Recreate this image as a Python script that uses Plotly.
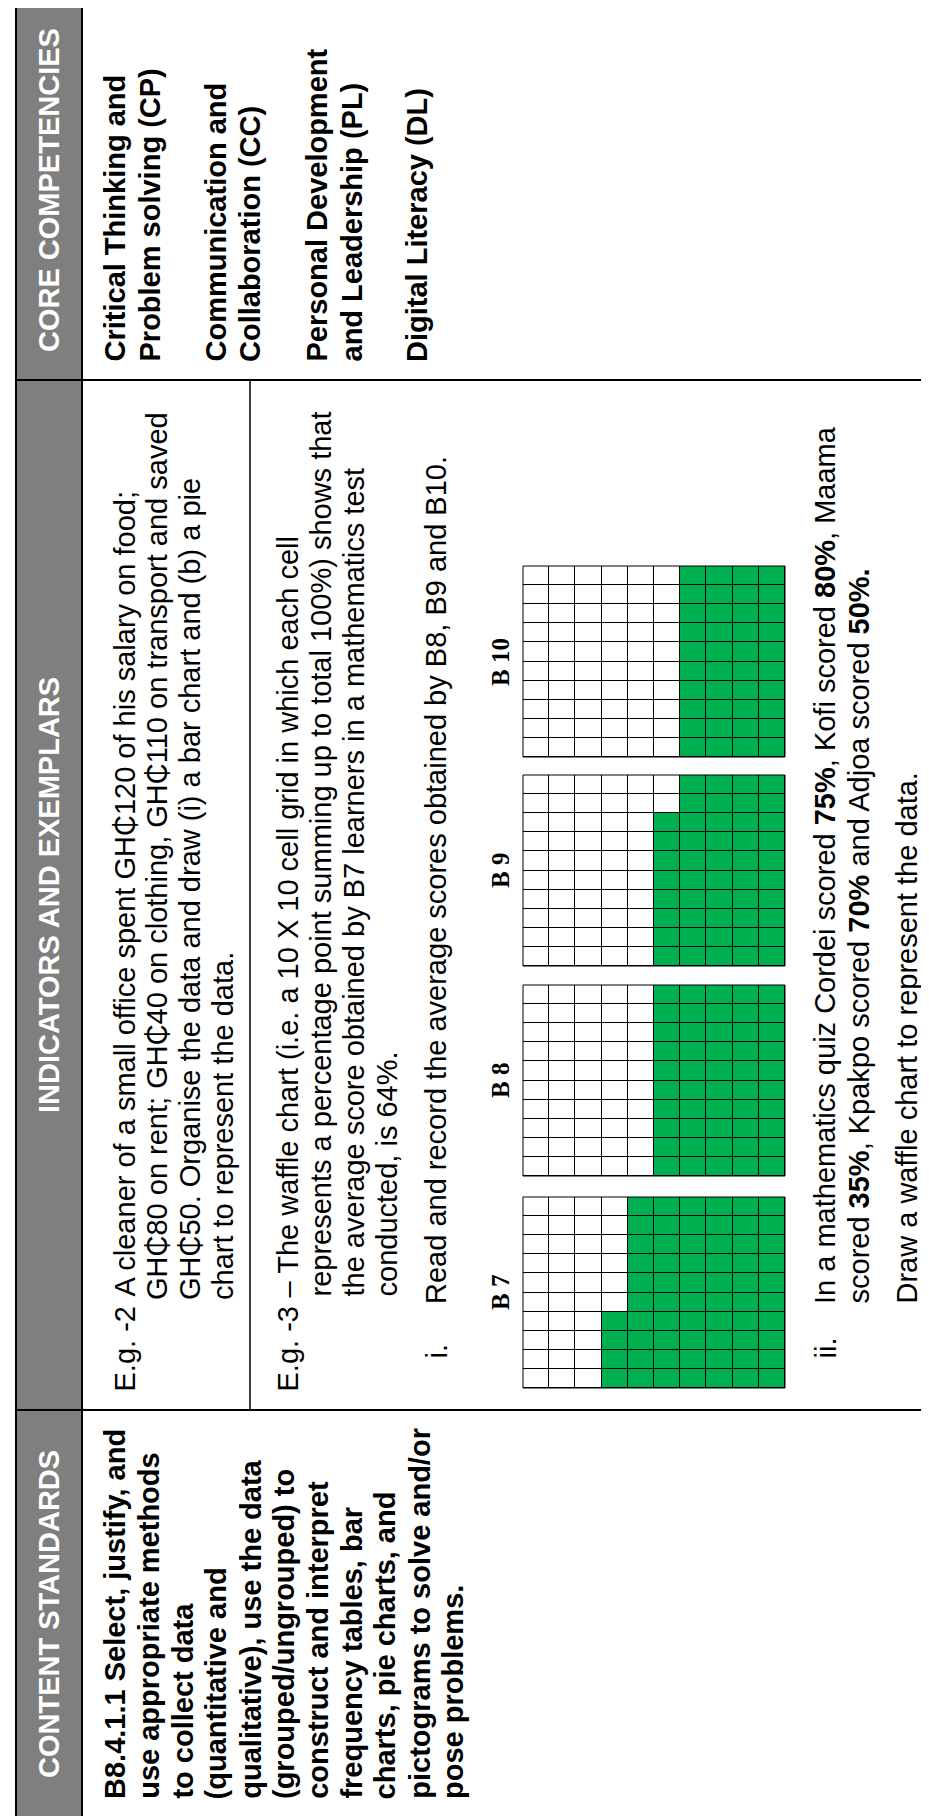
import plotly.graph_objects as go

# page size in pixels
W, H = 929, 1816

# waffle data: class labels and average scores (%)
classes = ["B 7", "B 8", "B 9", "B 10"]
scores = [64, 50, 48, 40]

# table text
header_titles = ["CORE COMPETENCIES", "INDICATORS AND EXEMPLARS", "CONTENT STANDARDS"]

competency_lines = [
    "Critical Thinking and", "Problem solving (CP)",
    "Communication and", "Collaboration (CC)",
    "Personal Development", "and Leadership (PL)",
    "Digital Literacy (DL)",
]

standard_lines = [
    "B8.4.1.1 Select, justify, and",
    "use appropriate methods",
    "to collect data",
    "(quantitative and",
    "qualitative), use the data",
    "(grouped/ungrouped) to",
    "construct and interpret",
    "frequency tables, bar",
    "charts, pie charts, and",
    "pictograms to solve and/or",
    "pose problems.",
]

eg2_lines = [
    "A cleaner of a small office spent GH₵120 of his salary on food;",
    "GH₵80 on rent; GH₵40 on clothing, GH₵110 on transport and saved",
    "GH₵50. Organise the data and draw (i) a bar chart and (b) a pie",
    "chart to represent the data.",
]

eg3_lines = [
    "– The waffle chart (i.e. a 10 X 10 cell grid in which each cell",
    "represents a percentage point summing up to total 100%) shows that",
    "the average score obtained by B7 learners in a mathematics test",
    "conducted, is 64%.",
]

read_line = "Read and record the average scores obtained by B8, B9 and B10."

task_lines = [
    "In a mathematics quiz Cordei scored <b>75%</b>, Kofi scored <b>80%</b>, Maama",
    "scored <b>35%</b>, Kpakpo scored <b>70%</b> and Adjoa scored <b>50%.</b>",
    "Draw a waffle chart to represent the data.",
]

SANS = "Liberation Sans, Arial, sans-serif"
SERIF = "Liberation Serif, Times New Roman, serif"
BODY = 29
GREEN = "#00B050"


def px(x):
    return x / W


def py(y):
    return 1 - y / H


fig = go.Figure()


def vtext(x, y, text, size=BODY, bold=False, color="black", yanchor="bottom", family=SANS):
    if bold:
        text = "<b>" + text + "</b>"
    fig.add_annotation(
        x=px(x), y=py(y), xref="paper", yref="paper", text=text,
        textangle=-90, showarrow=False, xanchor="center", yanchor=yanchor,
        borderpad=0, font=dict(family=family, size=size, color=color),
    )


def line(x0, y0, x1, y1, width=2):
    fig.add_shape(type="line", xref="paper", yref="paper",
                  x0=px(x0), y0=py(y0), x1=px(x1), y1=py(y1),
                  line=dict(color="black", width=width))


# gray header strip
fig.add_shape(type="rect", xref="paper", yref="paper", x0=px(8), x1=px(74),
              y0=py(-5), y1=py(1810), fillcolor="#7f7f7f", line_width=0, layer="below")

# table borders
line(8, -5, 8, 1811)
line(74, -5, 74, 1811)
line(8, 372, 935, 372)
line(8, 1402, 935, 1402)
line(8, 1810, 935, 1810)
line(242, 372, 242, 1402, width=1.5)

# column headers
for title, yc in zip(header_titles, [182, 887, 1606]):
    vtext(41, yc, title, size=29, bold=True, color="white", yanchor="middle")

# core competencies
for t, x in zip(competency_lines, [106, 141, 207, 242, 308, 343, 409]):
    vtext(x, 355, t, bold=True)

# content standards
for i, t in enumerate(standard_lines):
    vtext(107 + 33.8 * i, 1792, t, bold=True)

# E.g. -2
vtext(116, 1385, "E.g. -2")
vtext(116, 1290, eg2_lines[0])
for t, x in zip(eg2_lines[1:], [149, 182, 215]):
    vtext(x, 1293, t)

# E.g. -3
vtext(279, 1385, "E.g. -3")
vtext(279, 1291, eg3_lines[0])
for t, x in zip(eg3_lines[1:], [312, 345, 378]):
    vtext(x, 1290, t)

vtext(428, 1352, "i.")
vtext(428, 1297, read_line)

vtext(817, 1352, "ii.")
for t, x in zip(task_lines, [817, 850, 898]):
    vtext(x, 1297, t)

# waffle grids (rotated page: fill runs from the right, bottom-up)
grid_top = {"B 10": 558, "B 9": 767, "B 8": 977, "B 7": 1189}
gx0, gx1, gh = 515, 777, 191

layout_axes = {}
for i, (name, score) in enumerate(zip(classes, scores)):
    z = [[0] * 10 for _ in range(10)]
    for k in range(score):
        z[9 - k % 10][9 - k // 10] = 1
    ax = "" if i == 0 else str(i + 1)
    fig.add_trace(go.Heatmap(
        z=z, x=list(range(10)), y=list(range(10)),
        colorscale=[[0, "white"], [1, GREEN]], zmin=0, zmax=1,
        showscale=False, xgap=1, ygap=1, hoverinfo="skip",
        xaxis="x" + ax, yaxis="y" + ax,
    ))
    top = grid_top[name]
    layout_axes["xaxis" + ax] = dict(domain=[px(gx0), px(gx1)], range=[-0.5, 9.5],
                                     visible=False, fixedrange=True, anchor="y" + ax)
    layout_axes["yaxis" + ax] = dict(domain=[py(top + gh), py(top)], range=[9.5, -0.5],
                                     visible=False, fixedrange=True, anchor="x" + ax)
    fig.add_shape(type="rect", xref="paper", yref="paper",
                  x0=px(gx0), x1=px(gx1), y0=py(top + gh), y1=py(top),
                  line=dict(color="black", width=1))
    vtext(492.5, top + gh / 2, name, size=25, bold=True, yanchor="middle", family=SERIF)

fig.update_layout(
    width=W, height=H,
    margin=dict(l=0, r=0, t=0, b=0),
    paper_bgcolor="white",
    plot_bgcolor="black",
    showlegend=False,
    **layout_axes,
)

fig.write_html("out.html")
